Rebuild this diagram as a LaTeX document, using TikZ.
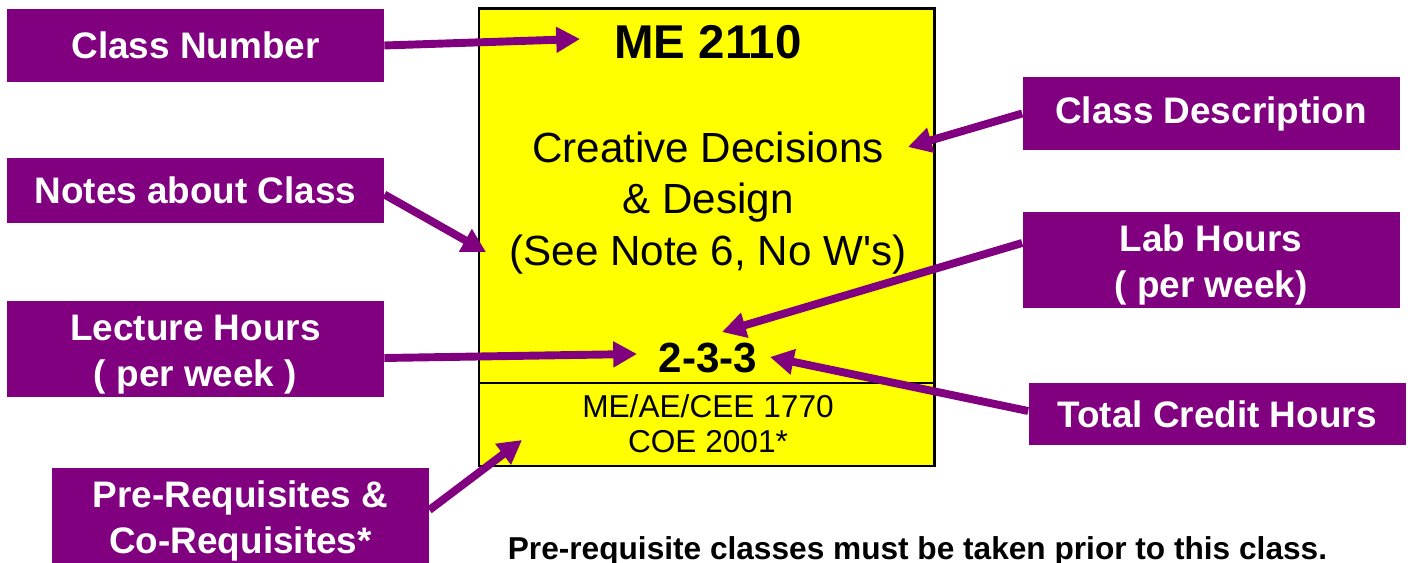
\documentclass[tikz,border=0pt]{standalone}
\usepackage{fontspec}
\setmainfont{Liberation Sans}
\setsansfont{Liberation Sans}[Ligatures=TeXOff]
\usetikzlibrary{positioning, arrows.meta}

\definecolor{tagpurple}{RGB}{128,0,128}
\definecolor{cardyellow}{RGB}{255,255,0}

\begin{document}
\begin{tikzpicture}[
  font=\sffamily,
  %% Callout label styles
  callout/.style={
    fill=tagpurple, text=white, inner sep=0pt,
    minimum width=7.54cm, align=center,
    font=\sffamily\bfseries\fontsize{21}{26.5}\selectfont
  },
  pointer/.style={
    draw=tagpurple, line width=4.5pt,
    -{Triangle[length=13.5pt, width=14pt]}
  },
  %% Course card text styles
  cardtext/.style={
    inner sep=0pt, align=center, text=black
  },
]

\useasboundingbox (0,0) rectangle (28.2,11.26);

%% ── COURSE CARD ───────────────────────────────────────────────────────────
\draw[fill=cardyellow, line width=1.7pt] (9.58,1.94) rectangle (18.68,11.08);
\draw[line width=1.7pt] (9.58,3.6) -- (18.68,3.6);

\node[cardtext, font=\sffamily\bfseries\fontsize{27}{32}\selectfont]
  (code)  at (14.16,10.42) {ME 2110};
\node[cardtext, font=\sffamily\fontsize{24}{29.5}\selectfont]
  (title) at (14.16,7.2)   {Creative Decisions\\ \& Design\\(See Note 6, No W's)};
\node[cardtext, font=\sffamily\bfseries\fontsize{24}{29}\selectfont]
  (hours) at (14.16,4.1)   {2-3-3};
\node[cardtext, font=\sffamily\fontsize{18}{20}\selectfont]
  (reqs)  at (14.16,2.78)  {ME/AE/CEE 1770\\COE 2001*};

%% ── CALLOUT LABELS ────────────────────────────────────────────────────────
\node[callout, minimum height=1.46cm] (num)     at (3.91,10.35) {Class Number};
\node[callout, minimum height=1.3cm]  (notes)   at (3.91,7.45)  {Notes about Class};
\node[callout, minimum height=1.92cm] (lecture) at (3.91,4.28)  {\rule{0pt}{21pt}Lecture Hours\\( per week )};
\node[callout, minimum height=1.92cm] (prereq)  at (4.81,0.94)  {\rule{0pt}{21pt}Pre-Requisites \&\\Co-Requisites*};
\node[callout, minimum height=1.46cm] (desc)    at (24.22,8.99) {Class Description};
\node[callout, minimum height=1.92cm] (lab)     at (24.22,6.06) {\rule{0pt}{21pt}Lab Hours\\( per week)};
\node[callout, minimum height=1.24cm] (total)   at (24.34,2.98) {Total Credit Hours};

%% ── ARROW TIPS ────────────────────────────────────────────────────────────
\coordinate (tNum)   at (11.6,10.48);
\coordinate (tDesc)  at (18.16,8.32);
\coordinate (tNotes) at (9.72,6.22);
\coordinate (tLab)   at (14.44,4.62);
\coordinate (tLec)   at (12.74,4.18);
\coordinate (tTot)   at (15.4,4.12);
\coordinate (tPre)   at (10.44,2.46);

%% ── POINTERS ──────────────────────────────────────────────────────────────
\draw[pointer] (num.east)                   -- (tNum);
\draw[pointer] (desc.west)                  -- (tDesc);
\draw[pointer] ([yshift=-0.08cm]notes.east) -- (tNotes);
\draw[pointer] ([yshift=0.34cm]lab.west)    -- (tLab);
\draw[pointer] ([yshift=-0.18cm]lecture.east) -- (tLec);
\draw[pointer] ([yshift=0.06cm]total.west)  -- (tTot);
\draw[pointer] ([yshift=0.12cm]prereq.east) -- (tPre);

%% ── FOOTNOTE ──────────────────────────────────────────────────────────────
\node[cardtext, font=\sffamily\bfseries\fontsize{18}{22}\selectfont]
  (rule) at (18.35,0.24) {Pre-requisite classes must be taken prior to this class.};

\end{tikzpicture}
\end{document}
